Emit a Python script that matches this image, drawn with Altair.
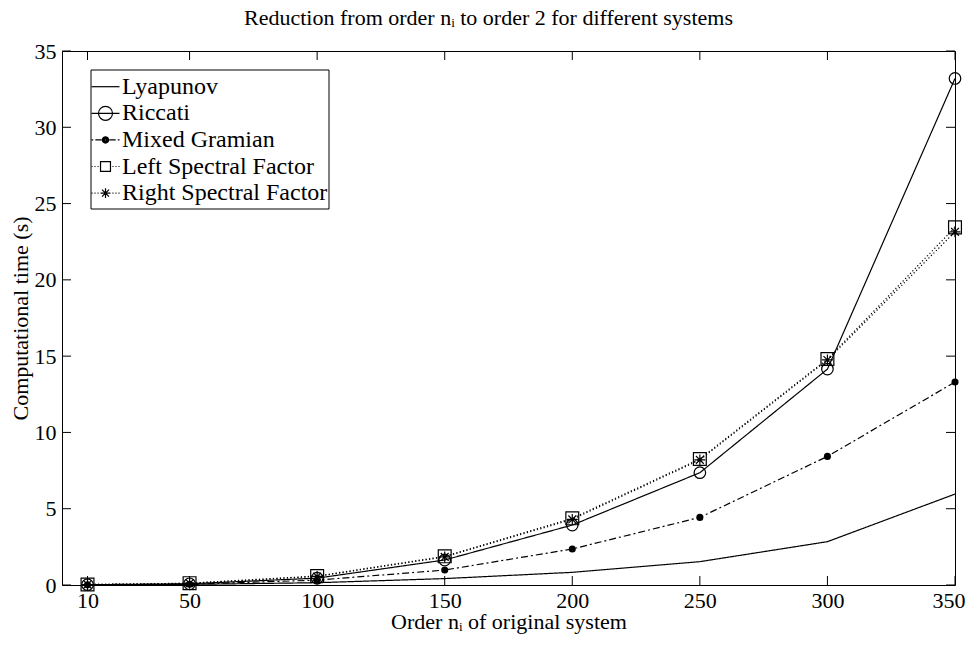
import altair as alt
import pandas as pd

# ---------------- data ----------------
orders = [10, 50, 100, 150, 200, 250, 300, 350]
series_names = ["Lyapunov", "Riccati", "Mixed Gramian",
                "Left Spectral Factor", "Right Spectral Factor"]
lyapunov = [0.01, 0.04, 0.15, 0.42, 0.83, 1.53, 2.84, 5.96]
riccati = [0.02, 0.08, 0.45, 1.64, 3.93, 7.36, 14.15, 33.2]
mixed_gramian = [0.01, 0.05, 0.32, 0.98, 2.36, 4.43, 8.43, 13.3]
left_spectral = [0.03, 0.12, 0.59, 1.88, 4.37, 8.26, 14.81, 23.44]
right_spectral = [0.03, 0.11, 0.56, 1.84, 4.30, 8.20, 14.75, 23.15]
x_ticks = [10, 50, 100, 150, 200, 250, 300, 350]
y_ticks = [0, 5, 10, 15, 20, 25, 30, 35]

title_text = "Reduction from order nᵢ to order 2 for different systems"
x_title = "Order nᵢ of original system"
y_title = "Computational time (s)"

rows = []
for name, vals in zip(series_names, [lyapunov, riccati, mixed_gramian,
                                     left_spectral, right_spectral]):
    for o, v in zip(orders, vals):
        rows.append({"order": o, "time": v, "series": name})
df = pd.DataFrame(rows)
xt = pd.DataFrame({"v": x_ticks})
yt = pd.DataFrame({"v": y_ticks})
leg_df = pd.DataFrame({"series": series_names})

# ---------------- styling ----------------
FONT = "Liberation Serif"
W, H = 893, 534
LW = 1.2
TICK = 9

xscale = alt.Scale(domain=[0, 350], nice=False, zero=False)
yscale = alt.Scale(domain=[0, 35], nice=False)

xaxis = alt.Axis(values=x_ticks, title=x_title, ticks=False,
                 domain=False, grid=False, labelFlush=1, labelFlushOffset=10,
                 labelFont=FONT, labelFontSize=22, labelColor="black",
                 labelPadding=5,
                 titleFont=FONT, titleFontSize=22, titleFontWeight="normal",
                 titleColor="black", titlePadding=0)
yaxis = alt.Axis(values=y_ticks, title=y_title, ticks=False,
                 domain=False, grid=False,
                 labelFont=FONT, labelFontSize=22, labelColor="black",
                 labelPadding=6,
                 titleFont=FONT, titleFontSize=22, titleFontWeight="normal",
                 titleColor="black", titlePadding=2)

X = alt.X("order:Q", scale=xscale, axis=xaxis)
Y = alt.Y("time:Q", scale=yscale, axis=yaxis)

dash_range = [[1, 0], [1, 0], [7, 3, 2, 3], [1.2, 2.3], [1.2, 2.3]]

lines = alt.Chart(df).mark_line(color="black", strokeWidth=LW).encode(
    x=X, y=Y,
    detail="series:N",
    strokeDash=alt.StrokeDash("series:N",
                              scale=alt.Scale(domain=series_names, range=dash_range),
                              legend=None),
)

ASTER = "M0,-1V1M-1,0H1M-0.71,-0.71L0.71,0.71M-0.71,0.71L0.71,-0.71"

def pts(name, **kw):
    return alt.Chart(df).transform_filter(alt.datum.series == name).mark_point(
        color="black", opacity=1, strokeWidth=LW, **kw).encode(
        x=alt.X("order:Q", scale=xscale),
        y=alt.Y("time:Q", scale=yscale))

ricc_pts = pts("Riccati", shape="circle", size=133, filled=False)
mixed_pts = pts("Mixed Gramian", shape="circle", size=50, filled=True)
lsf_pts = pts("Left Spectral Factor", shape="square", size=165, filled=False)
rsf_pts = pts("Right Spectral Factor", shape=ASTER, size=121, filled=False)

# inward tick marks on all four sides (MATLAB box style)
xt_bottom = alt.Chart(xt).mark_rule(color="black", strokeWidth=1).encode(
    x=alt.X("v:Q", scale=xscale), y=alt.value(H), y2=alt.value(H - TICK))
xt_top = alt.Chart(xt).mark_rule(color="black", strokeWidth=1).encode(
    x=alt.X("v:Q", scale=xscale), y=alt.value(0), y2=alt.value(TICK))
yt_left = alt.Chart(yt).mark_rule(color="black", strokeWidth=1).encode(
    y=alt.Y("v:Q", scale=yscale), x=alt.value(0), x2=alt.value(TICK))
yt_right = alt.Chart(yt).mark_rule(color="black", strokeWidth=1).encode(
    y=alt.Y("v:Q", scale=yscale), x=alt.value(W), x2=alt.value(W - TICK))

main = alt.layer(lines, xt_bottom, xt_top, yt_left, yt_right,
                 ricc_pts, mixed_pts, lsf_pts, rsf_pts)

# ---------------- legend (MATLAB-style box, upper left) ----------------
def ring(r):
    return f"M{-r},0A{r},{r},0,1,0,{r},0A{r},{r},0,1,0,{-r},0"

DOTS = "M-2,0H-1.85M-1.57,0H-1.42M-1.14,0H-0.99M0.99,0H1.14M1.42,0H1.57M1.85,0H2"
legend_paths = [
    "M-2,0H2",
    "M-2,0H2" + ring(1),
    "M-2,0H-1.75M-1.45,0H-0.55M0.55,0H1.45M1.75,0H2"
    + ring(0.45) + ring(0.3) + ring(0.15),
    DOTS + "M-0.71,-0.71H0.71V0.71H-0.71Z",
    DOTS + "M0,-0.71V0.71M-0.71,0H0.71M-0.5,-0.5L0.5,0.5M-0.5,0.5L0.5,-0.5",
]
LEG_Y = alt.Y("series:N",
              scale=alt.Scale(type="point", domain=series_names,
                              range=[35.7, 142.1], padding=0),
              axis=None)

leg_box = alt.Chart(pd.DataFrame({"box": [0]})).mark_rect(
    fill="white", stroke="black", strokeWidth=1).encode(
    x=alt.value(29), x2=alt.value(267), y=alt.value(19), y2=alt.value(158))
leg_sym = alt.Chart(leg_df).mark_point(
    filled=False, color="black", opacity=1, strokeWidth=LW, size=196).encode(
    x=alt.value(43.5), y=LEG_Y,
    shape=alt.Shape("series:N",
                    scale=alt.Scale(domain=series_names, range=legend_paths),
                    legend=None))
leg_txt = alt.Chart(leg_df).mark_text(
    align="left", baseline="middle", font=FONT, fontSize=24, color="black").encode(
    x=alt.value(60), y=LEG_Y, text="series:N")

legend = alt.layer(leg_box, leg_sym, leg_txt)

chart = alt.layer(main, legend).resolve_scale(
    y="independent"
).properties(
    width=W, height=H,
    autosize=alt.AutoSizeParams(type="none"),
    padding={"left": 54, "top": 43, "right": 11, "bottom": 52},
    title=alt.TitleParams(text=title_text, font=FONT, fontSize=22,
                          fontWeight="normal", color="black", offset=10,
                          dx=-20),
).configure_view(
    stroke="black", strokeWidth=1
)

chart.save("out.html", embed_options={"renderer": "svg", "actions": False})
